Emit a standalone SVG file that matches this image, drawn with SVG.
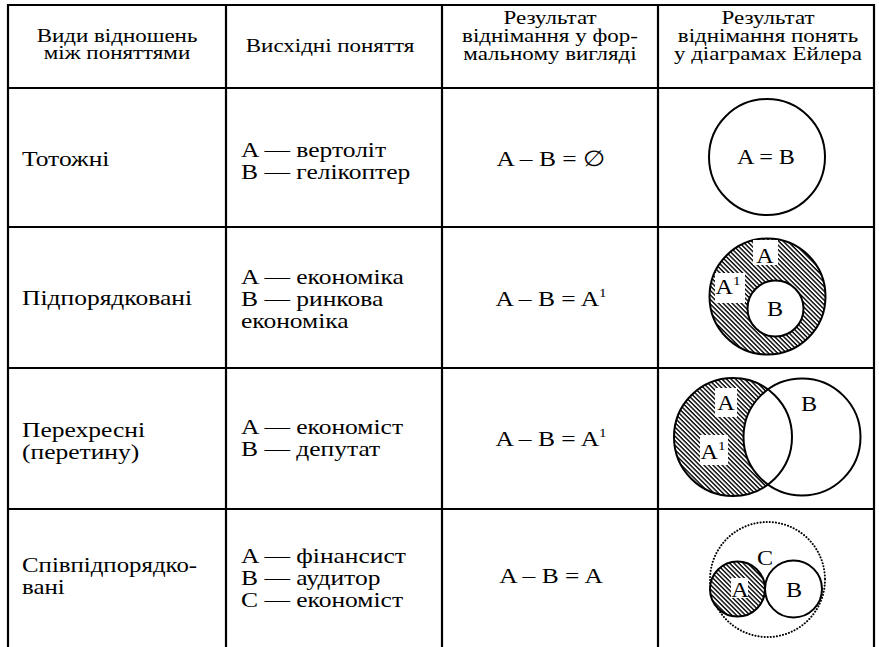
<svg xmlns="http://www.w3.org/2000/svg" width="879" height="647" viewBox="0 0 879 647">
<style>
text{font-family:"Liberation Serif","Times New Roman",serif;fill:#000}
.h{font-size:19px;text-anchor:middle}
.b{font-size:22px}
.c{text-anchor:middle}
.grid{stroke:#000;stroke-width:2.2;fill:none}
.circ{stroke:#000;stroke-width:2;fill:none}
.lbl{font-size:21px;text-anchor:middle}
.sup{font-size:13px}
</style>
<defs>
<pattern id="hatch" width="3.2" height="3.2" patternUnits="userSpaceOnUse" patternTransform="rotate(45)">
<rect width="3.2" height="3.2" fill="#fff"/>
<line x1="0" y1="0.7" x2="3.2" y2="0.7" stroke="#000" stroke-width="1.4"/>
</pattern>
<mask id="crescent">
<rect x="650" y="368" width="224" height="141" fill="#fff"/>
<circle cx="802" cy="437" r="58.5" fill="#000"/>
</mask>
</defs>
<rect width="879" height="647" fill="#fff"/>
<g id="table" class="grid">
<line x1="7" y1="5" x2="875" y2="5"/>
<line x1="7" y1="88" x2="875" y2="88"/>
<line x1="7" y1="227" x2="875" y2="227"/>
<line x1="7" y1="368" x2="875" y2="368"/>
<line x1="7" y1="509" x2="875" y2="509"/>
<line x1="8" y1="4" x2="8" y2="647"/>
<line x1="226" y1="4" x2="226" y2="647"/>
<line x1="442" y1="4" x2="442" y2="647"/>
<line x1="658" y1="4" x2="658" y2="647"/>
<line x1="874" y1="4" x2="874" y2="647"/>
</g>
<g id="header">
<g transform="translate(117,0) scale(1.21,1)">
<text class="h" x="0" y="42">Види відношень</text>
<text class="h" x="0" y="59">між поняттями</text>
</g>
<g transform="translate(330,0) scale(1.21,1)">
<text class="h" x="0" y="52">Висхідні поняття</text>
</g>
<g transform="translate(550,0) scale(1.21,1)">
<text class="h" x="0" y="24">Результат</text>
<text class="h" x="0" y="42">віднімання у фор-</text>
<text class="h" x="0" y="60">мальному вигляді</text>
</g>
<g transform="translate(768,0) scale(1.21,1)">
<text class="h" x="0" y="24">Результат</text>
<text class="h" x="0" y="42">віднімання понять</text>
<text class="h" x="0" y="60">у діаграмах Ейлера</text>
</g>
</g>
<g id="row1">
<text class="b" transform="translate(22,166) scale(1.16,1)">Тотожні</text>
<g transform="translate(241,0) scale(1.16,1)">
<text class="b" x="0" y="157">A — вертоліт</text>
<text class="b" x="0" y="179">B — гелікоптер</text>
</g>
<text class="b c" transform="translate(551,166) scale(1.16,1)">A – B = ∅</text>
<g id="euler1">
<circle class="circ" cx="767" cy="157" r="58"/>
<text class="lbl" transform="translate(766,164) scale(1.15,1)">A = B</text>
</g>
</g>
<g id="row2">
<text class="b" transform="translate(22,305) scale(1.16,1)">Підпорядковані</text>
<g transform="translate(241,0) scale(1.16,1)">
<text class="b" x="0" y="284">A — економіка</text>
<text class="b" x="0" y="306">B — ринкова</text>
<text class="b" x="0" y="328">економіка</text>
</g>
<text class="b c" transform="translate(551,306) scale(1.16,1)">A – B = A<tspan class="sup" dy="-9">1</tspan></text>
<g id="euler2">
<circle cx="767.5" cy="296.5" r="58" fill="url(#hatch)" stroke="#000" stroke-width="2"/>
<circle cx="775.5" cy="308.5" r="28" fill="#fff" stroke="#000" stroke-width="2"/>
<rect x="753" y="240" width="25" height="25" fill="#fff"/>
<rect x="715" y="273" width="30" height="30" fill="#fff"/>
<text class="lbl" transform="translate(765,263) scale(1.15,1)">A</text>
<text class="lbl" transform="translate(728,294) scale(1.15,1)">A<tspan class="sup" dy="-9">1</tspan></text>
<text class="lbl" transform="translate(775,316) scale(1.15,1)">B</text>
</g>
</g>
<g id="row3">
<g transform="translate(22,0) scale(1.16,1)">
<text class="b" x="0" y="437">Перехресні</text>
<text class="b" x="0" y="459">(перетину)</text>
</g>
<g transform="translate(241,0) scale(1.16,1)">
<text class="b" x="0" y="434">A — економіст</text>
<text class="b" x="0" y="456">B — депутат</text>
</g>
<text class="b c" transform="translate(551,446) scale(1.16,1)">A – B = A<tspan class="sup" dy="-9">1</tspan></text>
<g id="euler3">
<circle cx="733" cy="437" r="59" fill="url(#hatch)" mask="url(#crescent)"/>
<rect x="715" y="388" width="22" height="29" fill="#fff"/>
<rect x="700" y="435" width="28" height="30" fill="#fff"/>
<circle class="circ" cx="733" cy="437" r="59"/>
<circle class="circ" cx="802" cy="437" r="58.5"/>
<text class="lbl" transform="translate(726,410) scale(1.15,1)">A</text>
<text class="lbl" transform="translate(713,459) scale(1.15,1)">A<tspan class="sup" dy="-9">1</tspan></text>
<text class="lbl" transform="translate(809,411) scale(1.15,1)">B</text>
</g>
</g>
<g id="row4">
<g transform="translate(22,0) scale(1.13,1)">
<text class="b" x="0" y="572">Співпідпорядко-</text>
<text class="b" x="0" y="594">вані</text>
</g>
<g transform="translate(241,0) scale(1.16,1)">
<text class="b" x="0" y="563">A — фінансист</text>
<text class="b" x="0" y="585">B — аудитор</text>
<text class="b" x="0" y="607">C — економіст</text>
</g>
<text class="b c" transform="translate(551,583) scale(1.16,1)">A – B = A</text>
<g id="euler4">
<circle cx="767.5" cy="579.5" r="57.5" fill="none" stroke="#000" stroke-width="2" stroke-dasharray="0.1 3" stroke-linecap="round"/>
<circle cx="737.5" cy="589" r="27.5" fill="url(#hatch)" stroke="#000" stroke-width="2"/>
<circle class="circ" cx="793.5" cy="589" r="28.5" fill="#fff"/>
<rect x="731" y="578" width="17" height="20" fill="#fff"/>
<text class="lbl" transform="translate(740,597) scale(1.15,1)">A</text>
<text class="lbl" transform="translate(794,597) scale(1.15,1)">B</text>
<text class="lbl" transform="translate(765,565) scale(1.15,1)">C</text>
</g>
</g>
</svg>
